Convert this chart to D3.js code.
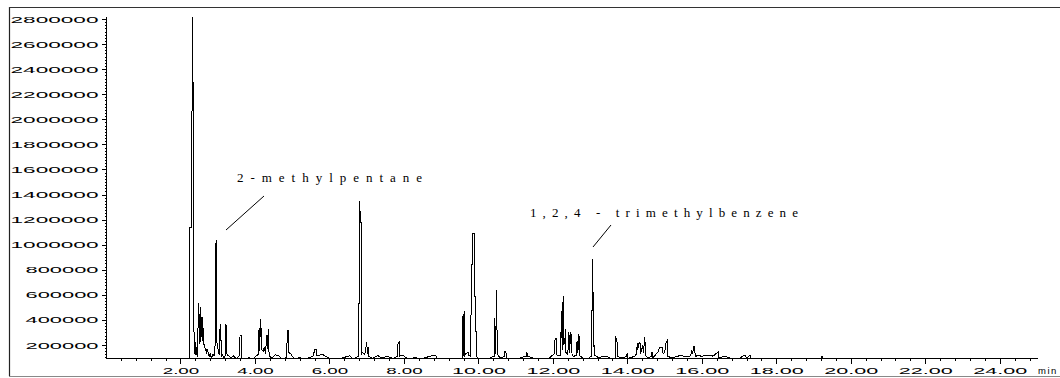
<!DOCTYPE html>
<html>
<head>
<meta charset="utf-8">
<script src="https://cdn.jsdelivr.net/npm/d3@7"></script>
<style>
  body { margin: 0; background: #fff; }
  .axis text { font-family: "Liberation Sans", Arial, sans-serif; font-size: 9.5px; fill: #000; }
  .axis path, .axis line { stroke: #000; shape-rendering: crispEdges; }
  .note { font-family: "Liberation Serif", "Times New Roman", serif; font-size: 13px; fill: #000; }
</style>
</head>
<body>
<div id="chart"></div>
<script>

// Tick values
var yTickValues = [200000, 400000, 600000, 800000, 1000000, 1200000, 1400000,
                   1600000, 1800000, 2000000, 2200000, 2400000, 2600000, 2800000];
var xTickValues = [2, 4, 6, 8, 10, 12, 14, 16, 18, 20, 22, 24];

// Peak labels
var peakNames = ["2-methylpentane", "1,2,4 - trimethylbenzene"];

// Chromatogram trace: [retention time (min), abundance]
var chromatogram = [
  [2.22, 92000], [2.254, 95000], [2.256, 1140000], [2.300, 1140000], [2.318, 2816000],
  [2.322, 2540000], [2.336, 2540000], [2.340, 335000], [2.362, 330000], [2.372, 140000],
  [2.400, 120000], [2.412, 226000], [2.425, 125000], [2.450, 115000], [2.490, 532000],
  [2.505, 210000], [2.530, 505000], [2.545, 225000], [2.565, 425000], [2.580, 235000],
  [2.600, 420000], [2.612, 215000], [2.630, 200000], [2.650, 205000], [2.665, 150000],
  [2.685, 165000], [2.700, 140000], [2.725, 155000], [2.745, 140000], [2.770, 110000],
  [2.800, 130000], [2.830, 95000], [2.870, 125000], [2.900, 110000], [2.935, 213000],
  [2.955, 1037000], [2.968, 1030000], [2.975, 226000], [3.020, 150000], [3.045, 120000],
  [3.065, 365000], [3.085, 360000], [3.092, 110000], [3.130, 120000], [3.160, 95000],
  [3.205, 115000], [3.215, 360000], [3.240, 355000], [3.250, 120000], [3.300, 115000],
  [3.350, 95000], [3.420, 112000], [3.500, 92000], [3.580, 115000], [3.600, 280000],
  [3.630, 275000], [3.640, 95000], [3.700, 92000], [3.850, 97000], [3.950, 92000],
  [4.050, 115000], [4.090, 125000], [4.110, 335000], [4.125, 150000], [4.150, 406000],
  [4.170, 300000], [4.185, 160000], [4.220, 150000], [4.250, 185000], [4.285, 130000],
  [4.315, 280000], [4.330, 170000], [4.360, 327000], [4.378, 140000], [4.400, 110000],
  [4.450, 92000], [4.550, 122000], [4.600, 115000], [4.650, 112000], [4.700, 92000],
  [4.850, 97000], [4.870, 319000], [4.900, 319000], [4.910, 140000], [4.960, 130000],
  [5.000, 110000], [5.050, 92000], [5.200, 97000], [5.400, 92000], [5.560, 110000],
  [5.610, 168000], [5.650, 165000], [5.665, 115000], [5.750, 120000], [5.800, 126000],
  [5.900, 110000], [6.000, 92000], [6.300, 92000], [6.550, 115000], [6.600, 92000],
  [6.700, 97000], [6.770, 110000], [6.772, 532000], [6.800, 532000], [6.815, 1351000],
  [6.828, 1176000], [6.858, 1176000], [6.862, 130000], [6.890, 140000], [6.950, 125000],
  [6.980, 180000], [7.000, 221000], [7.020, 130000], [7.040, 186000], [7.060, 110000],
  [7.150, 92000], [7.300, 115000], [7.400, 95000], [7.550, 110000], [7.700, 92000],
  [7.820, 110000], [7.840, 205000], [7.870, 221000], [7.890, 110000], [7.950, 120000],
  [8.100, 92000], [8.300, 97000], [8.500, 92000], [8.700, 110000], [8.840, 120000],
  [8.900, 92000], [9.400, 92000], [9.560, 95000], [9.578, 431000], [9.590, 110000],
  [9.615, 471000], [9.630, 115000], [9.660, 130000], [9.700, 136000], [9.725, 136000],
  [9.740, 115000], [9.780, 112000], [9.845, 1091000], [9.895, 1091000], [9.900, 585000],
  [9.930, 585000], [9.940, 120000], [9.980, 95000], [10.100, 92000], [10.300, 95000],
  [10.420, 110000], [10.440, 418000], [10.460, 130000], [10.490, 638000], [10.505, 150000],
  [10.520, 120000], [10.600, 95000], [10.690, 110000], [10.700, 146000], [10.740, 146000],
  [10.750, 95000], [10.900, 92000], [11.100, 95000], [11.280, 110000], [11.300, 146000],
  [11.320, 110000], [11.500, 92000], [11.900, 95000], [12.040, 130000], [12.060, 255000],
  [12.100, 250000], [12.110, 120000], [12.200, 115000], [12.235, 471000], [12.250, 160000],
  [12.275, 590000], [12.290, 207000], [12.320, 210000], [12.335, 327000], [12.350, 140000],
  [12.400, 120000], [12.430, 303000], [12.450, 140000], [12.475, 300000], [12.500, 274000],
  [12.515, 120000], [12.550, 110000], [12.630, 115000], [12.650, 232000], [12.670, 140000],
  [12.700, 287000], [12.720, 115000], [12.800, 95000], [12.950, 92000], [13.030, 110000],
  [13.035, 471000], [13.060, 471000], [13.070, 886000], [13.090, 190000], [13.120, 194000],
  [13.130, 115000], [13.250, 95000], [13.350, 112000], [13.450, 110000], [13.550, 95000],
  [13.670, 95000], [13.685, 263000], [13.700, 255000], [13.720, 255000], [13.730, 110000],
  [13.850, 95000], [13.980, 110000], [14.000, 136000], [14.020, 92000], [14.200, 110000],
  [14.250, 130000], [14.265, 218000], [14.280, 160000], [14.300, 200000], [14.320, 218000],
  [14.340, 218000], [14.355, 130000], [14.410, 200000], [14.430, 140000], [14.470, 263000],
  [14.485, 120000], [14.550, 95000], [14.650, 110000], [14.660, 146000], [14.680, 95000],
  [14.840, 150000], [14.860, 180000], [14.940, 180000], [14.960, 130000], [15.000, 140000],
  [15.040, 218000], [15.070, 234000], [15.085, 110000], [15.200, 95000], [15.350, 110000],
  [15.470, 120000], [15.500, 110000], [15.700, 112000], [15.730, 160000], [15.750, 130000],
  [15.790, 192000], [15.830, 110000], [15.900, 115000], [16.000, 110000], [16.100, 115000],
  [16.220, 120000], [16.300, 110000], [16.440, 146000], [16.460, 95000], [16.600, 110000],
  [16.800, 92000], [17.000, 92000], [17.160, 120000], [17.200, 92000], [17.290, 120000],
  [17.330, 92000], [18.500, 92000], [19.200, 92000], [19.230, 110000], [19.260, 92000]
];

// Dimensions
var width = 1060;
var height = 378;
var axisY = 358;

var svg = d3.select("#chart")
  .append("svg")
  .attr("width", width)
  .attr("height", height);

// Frame around the chart
svg.append("line")
  .attr("x1", 9.5).attr("x2", 9.5).attr("y1", 7).attr("y2", 376)
  .style("stroke", "#222").style("stroke-width", 1.2);
svg.append("line")
  .attr("x1", 9).attr("x2", width).attr("y1", 7.5).attr("y2", 7.5)
  .style("stroke", "#333").style("stroke-width", 1.2);
svg.append("line")
  .attr("x1", 9).attr("x2", width).attr("y1", 376.5).attr("y2", 376.5)
  .style("stroke", "#888").style("stroke-width", 1);

// Scales
var x = d3.scaleLinear()
  .domain([0, 25])
  .range([106, 1037]);

var y = d3.scaleLinear()
  .domain([92000, 2808000])
  .range([axisY + 0.5, 18]);

// Minor ticks on both axes
svg.append("g")
  .attr("class", "axis")
  .attr("transform", "translate(106.5,0)")
  .call(d3.axisLeft(y).tickValues(d3.range(100000, 2800001, 25000)).tickSize(2).tickFormat(""))
  .select(".domain").remove();

svg.append("g")
  .attr("class", "axis")
  .attr("transform", "translate(0," + axisY + ")")
  .call(d3.axisBottom(x).tickValues(d3.range(0.4, 25, 0.4)).tickSize(3).tickFormat(""))
  .select(".domain").remove();

// Y axis with wide labels
var yAxis = svg.append("g")
  .attr("class", "axis")
  .attr("transform", "translate(106.5,0)")
  .call(d3.axisLeft(y)
    .tickValues(yTickValues)
    .tickSize(5)
    .tickSizeOuter(0)
    .tickPadding(3)
    .tickFormat(d3.format("d")));

yAxis.select(".domain").attr("d", "M0," + y(2816000) + "V" + y.range()[0]);

yAxis.selectAll("text")
  .attr("textLength", function(d) { return 15 * String(d).length - 17; })
  .attr("lengthAdjust", "spacingAndGlyphs");

// X axis
var xAxis = svg.append("g")
  .attr("class", "axis")
  .attr("transform", "translate(0," + axisY + ")")
  .call(d3.axisBottom(x)
    .tickValues(xTickValues)
    .tickSize(6)
    .tickSizeOuter(0)
    .tickPadding(3)
    .tickFormat(d3.format(".2f")));

xAxis.selectAll("text")
  .attr("textLength", function(d) { return 17.5 * d3.format(".2f")(d).length - 33.5; })
  .attr("lengthAdjust", "spacingAndGlyphs");

// Unit label at the right end of the time axis
svg.append("text")
  .attr("x", 1038)
  .attr("y", 374)
  .style("font-family", "Liberation Sans, Arial, sans-serif")
  .style("font-size", "9.5px")
  .style("letter-spacing", "1.5px")
  .text("min");

// Chromatogram trace
var line = d3.line()
  .x(function(d) { return x(d[0]); })
  .y(function(d) { return y(d[1]); });

svg.append("path")
  .datum(chromatogram)
  .attr("d", line)
  .style("fill", "none")
  .style("stroke", "#000")
  .style("stroke-width", 1)
  .style("shape-rendering", "crispEdges");

// Peak annotations
svg.append("text")
  .attr("class", "note")
  .attr("x", 237)
  .attr("y", 182)
  .attr("textLength", 185)
  .attr("lengthAdjust", "spacing")
  .text(peakNames[0]);

svg.append("line")
  .attr("x1", 264).attr("y1", 196)
  .attr("x2", 226).attr("y2", 230)
  .style("stroke", "#000").style("stroke-width", 1);

svg.append("text")
  .attr("class", "note")
  .attr("x", 530)
  .attr("y", 217)
  .attr("textLength", 268)
  .attr("lengthAdjust", "spacing")
  .text(peakNames[1]);

svg.append("line")
  .attr("x1", 611).attr("y1", 225)
  .attr("x2", 593).attr("y2", 247)
  .style("stroke", "#000").style("stroke-width", 1);

</script>
</body>
</html>
